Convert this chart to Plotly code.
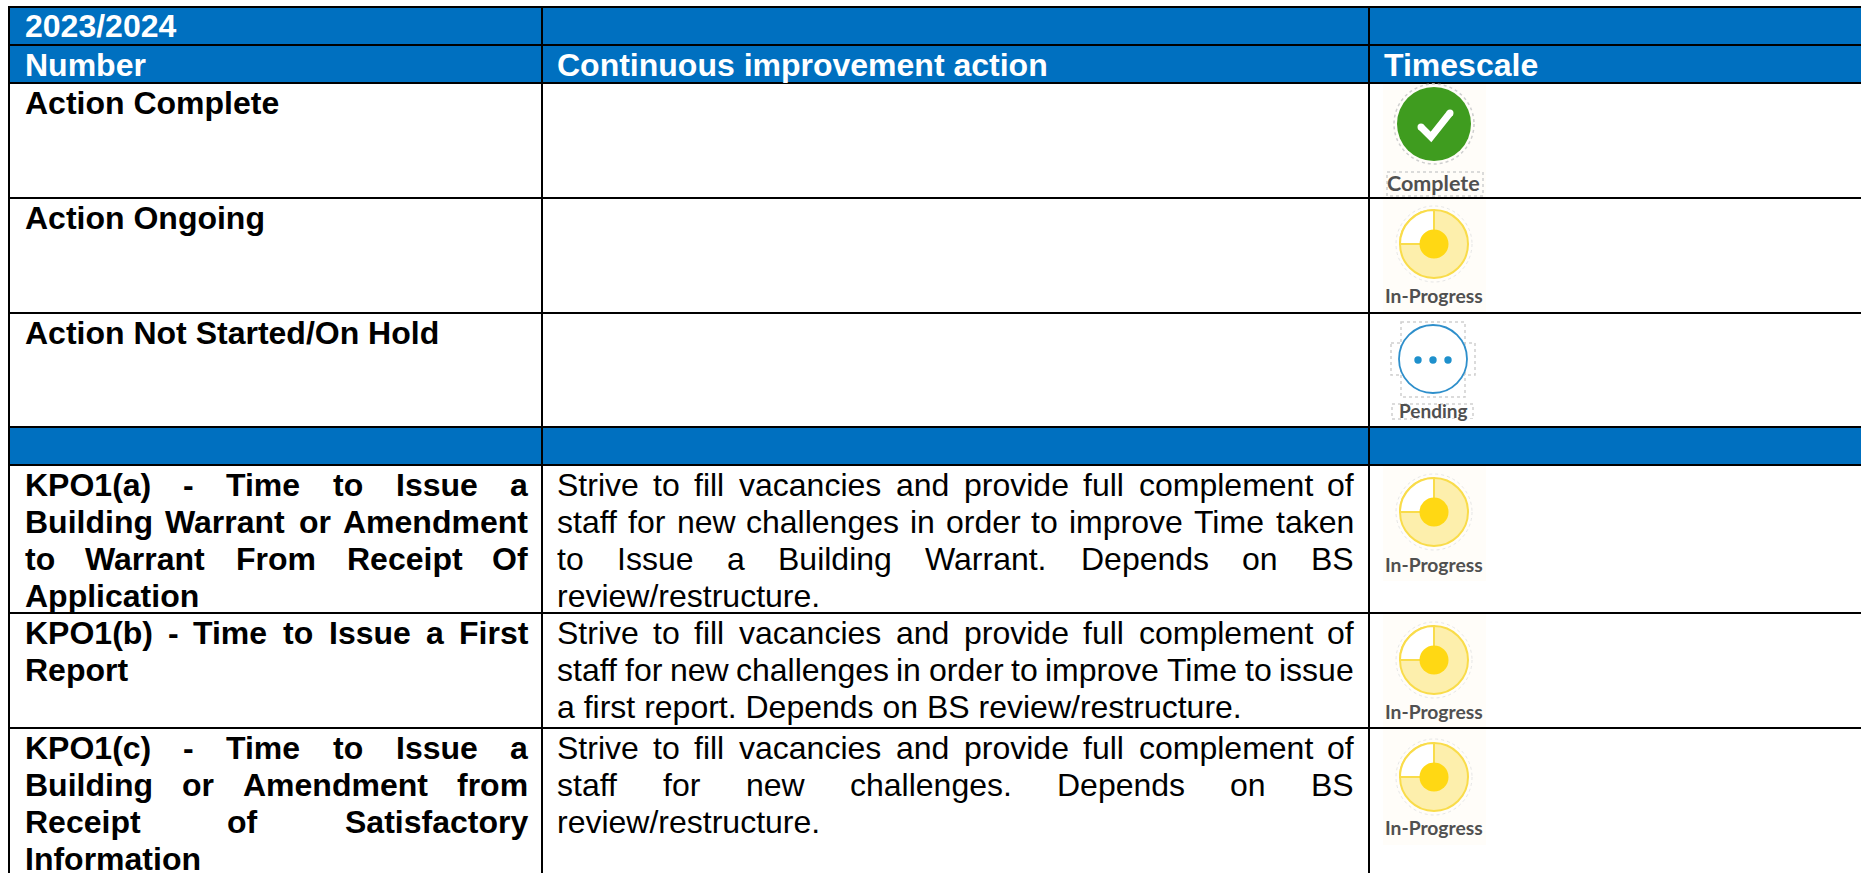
import plotly.graph_objects as go

# ---- table content ----
top_label = ["2023/2024"]
col_headers = ["Number", "Continuous improvement action", "Timescale"]
legend_rows = ["Action Complete", "Action Ongoing", "Action Not Started/On Hold"]
kpo_a = ["KPO1(a) - Time to Issue a", "Building Warrant or Amendment", "to Warrant From Receipt Of", "Application"]
kpo_b = ["KPO1(b) - Time to Issue a First", "Report"]
kpo_c = ["KPO1(c) - Time to Issue a", "Building or Amendment from", "Receipt of Satisfactory", "Information"]
act_a = ["Strive to fill vacancies and provide full complement of",
         "staff for new challenges in order to improve Time taken",
         "to Issue a Building Warrant. Depends on BS",
         "review/restructure."]
act_b = ["Strive to fill vacancies and provide full complement of",
         "staff for new challenges in order to improve Time to issue",
         "a first report. Depends on BS review/restructure."]
act_c = ["Strive to fill vacancies and provide full complement of",
         "staff for new challenges. Depends on BS",
         "review/restructure."]
status_labels = ["Complete", "In-Progress", "Pending"]

# ---- layout ----
W, H = 1861, 873
BLUE = "#0070C0"
FS = 32
PITCH = 37
row_lines = [7, 45, 83, 198, 313, 427, 465, 613, 728]
col_lines = [9, 542, 1369]
C1 = (24.5, 528)
C2 = (557, 1354)
C3 = 1384

# Arial / Liberation Sans advance widths, per 1000 em, used to justify lines
REG = dict(zip("abcdefghijklmnopqrstuvwxyz", [556,556,500,556,556,278,556,556,222,222,500,222,833,556,556,556,556,333,500,278,556,500,722,500,500,500]))
REG.update(zip("ABCDEFGHIJKLMNOPQRSTUVWXYZ", [667,667,722,722,667,611,778,722,278,500,667,556,833,722,778,667,778,722,667,611,722,667,944,667,667,611]))
BLD = dict(zip("abcdefghijklmnopqrstuvwxyz", [556,611,556,611,556,333,611,611,278,278,556,278,889,611,611,611,611,389,556,333,611,556,778,556,556,500]))
BLD.update(zip("ABCDEFGHIJKLMNOPQRSTUVWXYZ", [722,722,722,722,667,611,778,722,278,556,722,611,833,722,778,667,778,722,667,611,722,667,944,667,667,611]))
for t in (REG, BLD):
    t.update({".": 278, ",": 278, "/": 278, "-": 333, "(": 333, ")": 333})
    t.update({d: 556 for d in "0123456789"})

def width(s, bold):
    t = BLD if bold else REG
    return sum(t[c] for c in s) * FS / 1000

annotations = []
shapes = []

def text(x, y, s, size=FS, color="black", bold=False, family="Liberation Sans", anchor="left", weight=None):
    annotations.append(dict(
        x=x, y=y, xref="x", yref="y", text=s, showarrow=False, xanchor=anchor, yanchor="middle",
        borderpad=0, borderwidth=0,
        font=dict(size=size, color=color, family=family, weight=weight if weight else (700 if bold else 400)),
    ))

def para(lines, x0, x1, ytop, bold):
    for i, line in enumerate(lines):
        y = ytop + i * PITCH
        words = line.split(" ")
        if i == len(lines) - 1 or len(words) == 1:
            text(x0, y, line, bold=bold)
            continue
        total = sum(width(w, bold) for w in words)
        gap = (x1 - x0 - total) / (len(words) - 1)
        x = x0
        for w in words:
            text(x, y, w, bold=bold)
            x += width(w, bold) + gap

def rect(x0, y0, x1, y1, fill=None, line=None, lw=1, dash=None):
    shapes.append(dict(type="rect", x0=x0, y0=y0, x1=x1, y1=y1, xref="x", yref="y",
                       fillcolor=fill or "rgba(0,0,0,0)",
                       line=dict(color=line or "rgba(0,0,0,0)", width=lw if line else 0, dash=dash)))

def circle(cx, cy, r, fill=None, line=None, lw=1, dash=None):
    shapes.append(dict(type="circle", x0=cx - r, y0=cy - r, x1=cx + r, y1=cy + r, xref="x", yref="y",
                       fillcolor=fill or "rgba(0,0,0,0)",
                       line=dict(color=line or "rgba(0,0,0,0)", width=lw if line else 0, dash=dash)))

def path(d, fill=None, line=None, lw=1):
    shapes.append(dict(type="path", path=d, xref="x", yref="y",
                       fillcolor=fill or "rgba(0,0,0,0)",
                       line=dict(color=line or "rgba(0,0,0,0)", width=lw if line else 0)))

# header bands
rect(col_lines[0], row_lines[0], W, row_lines[2], fill=BLUE)
rect(col_lines[0], row_lines[5], W, row_lines[6], fill=BLUE)

# grid
for y in row_lines:
    rect(col_lines[0] - 1, y - 1, W, y + 1, fill="black")
for x in col_lines:
    rect(x - 1, row_lines[0] - 1, x + 1, H, fill="black")

CREAM = "#FFFDF9"
GREY = "#CFCFCF"
LABEL = "#505050"

def icon_bg(y0, y1):
    rect(1383, y0, 1486, y1, fill=CREAM)

def complete_icon(cy, ly):
    icon_bg(cy - 40, cy + 73)
    circle(1434, cy, 40, line=GREY, lw=1.5, dash="dot")
    circle(1434, cy, 37, fill="#3F9C1F")
    path(f"M1421,{cy+3} L1431,{cy+13} L1450,{cy-11}", line="white", lw=7)
    circle(1421, cy + 3, 3.5, fill="white")
    circle(1450, cy - 11, 3.5, fill="white")
    rect(1387, ly - 12, 1483, ly + 12, line=GREY, lw=1.5, dash="dot")
    text(1433.5, ly - 1, status_labels[0], size=21.5, color=LABEL, family="Lato", anchor="center", weight=700)

def progress_icon(cy, ly, y0, y1):
    icon_bg(y0, y1)
    cx, r = 1434, 34
    circle(cx, cy, 38, line="#E6E6E6", lw=1, dash="dot")
    circle(cx, cy, r, fill="#FDEFAC", line="#F9DC4A", lw=2)
    k = 0.5523 * r
    path(f"M{cx},{cy} L{cx-r},{cy} C{cx-r},{cy-k} {cx-k},{cy-r} {cx},{cy-r} Z", fill="#FFFFFF", line="#F9DC4A", lw=2)
    circle(cx, cy, 14.5, fill="#FFD814")
    text(1433.5, ly - 1.5, status_labels[1], size=19.3, color=LABEL, family="Lato", anchor="center", weight=700)

def pending_icon(cy, ly):
    rect(1401, 322, 1465, 397, fill="white", line=GREY, lw=1.5, dash="dot")
    rect(1391, 343, 1475, 375, line=GREY, lw=1.5, dash="dot")
    rect(1392, 404, 1473, 419, fill="white", line=GREY, lw=1.5, dash="dot")
    rect(1412, 419, 1474, 426, fill="white")
    circle(1433, cy, 34, fill="white", line="#2E8FCB", lw=1.8)
    for dx in (-15, 0, 15):
        circle(1433 + dx, cy + 1, 3.7, fill="#1E90CC")
    text(1433, ly - 1.5, status_labels[2], size=19, color=LABEL, family="Lato", anchor="center", weight=700)

complete_icon(124, 184)
progress_icon(244, 297, 199, 312)
pending_icon(359, 412)
progress_icon(512, 566, 466, 581)
progress_icon(660, 713, 614, 727)
progress_icon(777, 829, 729, 845)

# header text
text(C1[0], 26, top_label[0], color="white", bold=True)
text(C1[0], 65, col_headers[0], color="white", bold=True)
text(C2[0], 65, col_headers[1], color="white", bold=True)
text(C3, 65, col_headers[2], color="white", bold=True)

# legend rows
text(C1[0], 103, legend_rows[0], bold=True)
text(C1[0], 218, legend_rows[1], bold=True)
text(C1[0], 333, legend_rows[2], bold=True)

# KPO rows
para(kpo_a, C1[0], C1[1], 485, True)
para(kpo_b, C1[0], C1[1], 633, True)
para(kpo_c, C1[0], C1[1], 748, True)
para(act_a, C2[0], C2[1], 485, False)
para(act_b, C2[0], C2[1], 633, False)
para(act_c, C2[0], C2[1], 748, False)

fig = go.Figure()
fig.update_layout(
    width=W, height=H, margin=dict(l=0, r=0, t=0, b=0), paper_bgcolor="white", plot_bgcolor="white",
    xaxis=dict(range=[0, W], visible=False, fixedrange=True),
    yaxis=dict(range=[H, 0], visible=False, fixedrange=True),
    shapes=shapes, annotations=annotations, showlegend=False,
)
fig.write_html("out.html", post_script="document.body.style.margin='0';document.body.style.overflow='hidden';",
               config={"displayModeBar": False})
